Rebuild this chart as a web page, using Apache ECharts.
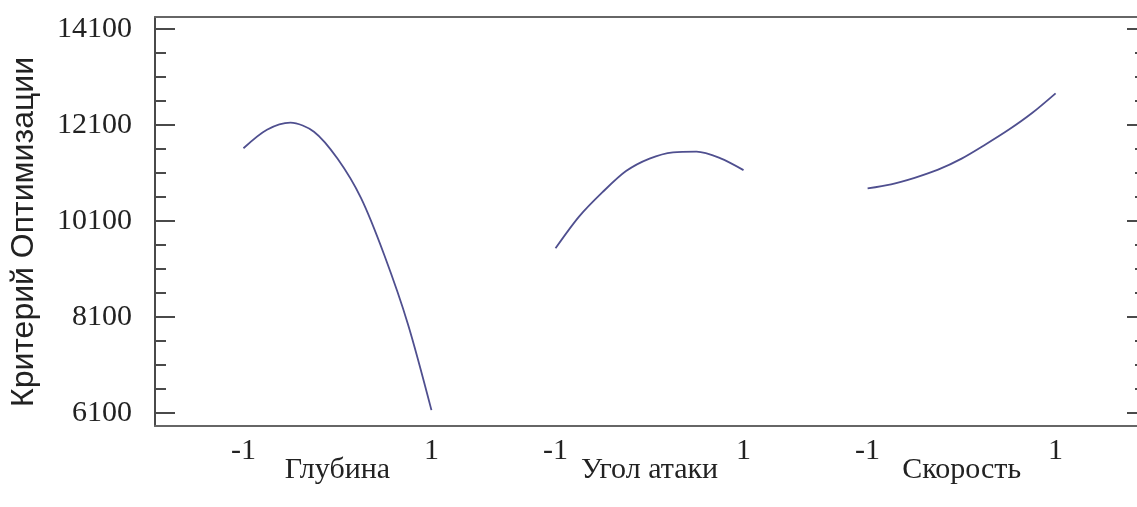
<!DOCTYPE html>
<html>
<head>
<meta charset="utf-8">
<script src="https://cdn.jsdelivr.net/npm/echarts@6/dist/echarts.min.js"></script>
<style>
html,body{margin:0;padding:0;background:#fff;}
#chart{width:1137px;height:507px;}
</style>
</head>
<body>
<div id="chart"></div>
<script>
// Factor names (x categories)
const categories = ['Глубина', 'Угол атаки', 'Скорость'];
// Coded factor levels at which the curves were read
const levels = [-1, -0.75, -0.5, -0.25, 0, 0.25, 0.5, 0.75, 1];
// Criterion values
const depthValues = [11615, 12000, 12148, 11960, 11400, 10580, 9380, 7950, 6160];
const angleValues = [9530, 10190, 10700, 11140, 11400, 11530, 11545, 11410, 11160];
const speedValues = [10780, 10865, 11000, 11170, 11400, 11690, 12000, 12350, 12760];
// Tick labels
const yTickLabels = [6100, 8100, 10100, 12100, 14100];
const yMinorTicks = [6600, 7100, 7600, 8600, 9100, 9600, 10600, 11100, 11600, 12600, 13100, 13600];
const xTickLabels = ['-1', '1'];
const yTitle = 'Критерий Оптимизации';

// layout: panels placed side by side along one x axis
const step = 3.32;
const xMin = -1.941, xMax = 8.506;
const yMin = 5829, yMax = 14350;

const allSeries = [depthValues, angleValues, speedValues];
const lineColor = '#4f4f8f';
const axisColor = '#4a4a4a';
const serif = '"Liberation Serif", "Times New Roman", serif';

const xLabelValues = [];
categories.forEach((c, k) => { xLabelValues.push(k * step - 1, k * step + 1); });
const centers = categories.map((c, k) => k * step);

function yAxisDef(position, values, len, showLabel, showLine, offset) {
  return {
    type: 'value', position: position, min: yMin, max: yMax, offset: offset,
    splitLine: { show: false },
    axisLine: { show: showLine, onZero: false, lineStyle: { color: axisColor, width: 2 } },
    axisTick: { show: true, inside: true, length: len, customValues: values,
      lineStyle: { color: axisColor, width: 2 } },
    axisLabel: { show: showLabel, customValues: values, margin: 23,
      color: '#222', fontFamily: serif, fontSize: 30,
      formatter: function (v) { return String(v); } }
  };
}

const chart = echarts.init(document.getElementById('chart'), null, { renderer: 'canvas' });
chart.setOption({
  animation: false,
  backgroundColor: '#fff',
  grid: { left: 155, top: 17, right: 0, bottom: 81, show: false,
    outerBoundsMode: 'none', containLabel: false },
  xAxis: [
    { type: 'value', min: xMin, max: xMax, position: 'bottom',
      splitLine: { show: false },
      axisLine: { show: true, onZero: false, lineStyle: { color: '#666', width: 2 } },
      axisTick: { show: false },
      axisLabel: { customValues: xLabelValues, margin: 10, color: '#222',
        fontFamily: serif, fontSize: 30,
        formatter: function (v) {
          const rel = v - Math.round(v / step) * step;
          return rel < 0 ? xTickLabels[0] : xTickLabels[1];
        } } },
    { type: 'value', min: xMin, max: xMax, position: 'bottom',
      splitLine: { show: false },
      axisLine: { show: false, onZero: false },
      axisTick: { show: false },
      axisLabel: { customValues: centers, margin: 29, color: '#222',
        fontFamily: serif, fontSize: 30,
        formatter: function (v) { return categories[Math.round(v / step)]; } } },
    { type: 'value', min: xMin, max: xMax, position: 'top',
      splitLine: { show: false },
      axisLine: { show: true, onZero: false, lineStyle: { color: '#666', width: 2 } },
      axisTick: { show: false }, axisLabel: { show: false } }
  ],
  yAxis: [
    yAxisDef('left', yTickLabels, 20, true, true, 0),
    yAxisDef('left', yMinorTicks, 11, false, false, 0),
    yAxisDef('right', yTickLabels, 13, false, false, 3),
    yAxisDef('right', yMinorTicks, 5, false, false, 3)
  ],
  graphic: [{
    type: 'text', x: 24, y: 232, rotation: Math.PI / 2,
    style: { text: yTitle, fill: '#222', align: 'center', verticalAlign: 'middle',
      font: '32px "Liberation Sans", Arial, sans-serif' }
  }],
  series: allSeries.map(function (vals, k) {
    return {
      type: 'line', xAxisIndex: 0, yAxisIndex: 0, smooth: 0.3, symbol: 'none',
      lineStyle: { color: lineColor, width: 1.8 },
      data: levels.map(function (l, i) { return [k * step + l, vals[i]]; })
    };
  })
});
</script>
</body>
</html>
